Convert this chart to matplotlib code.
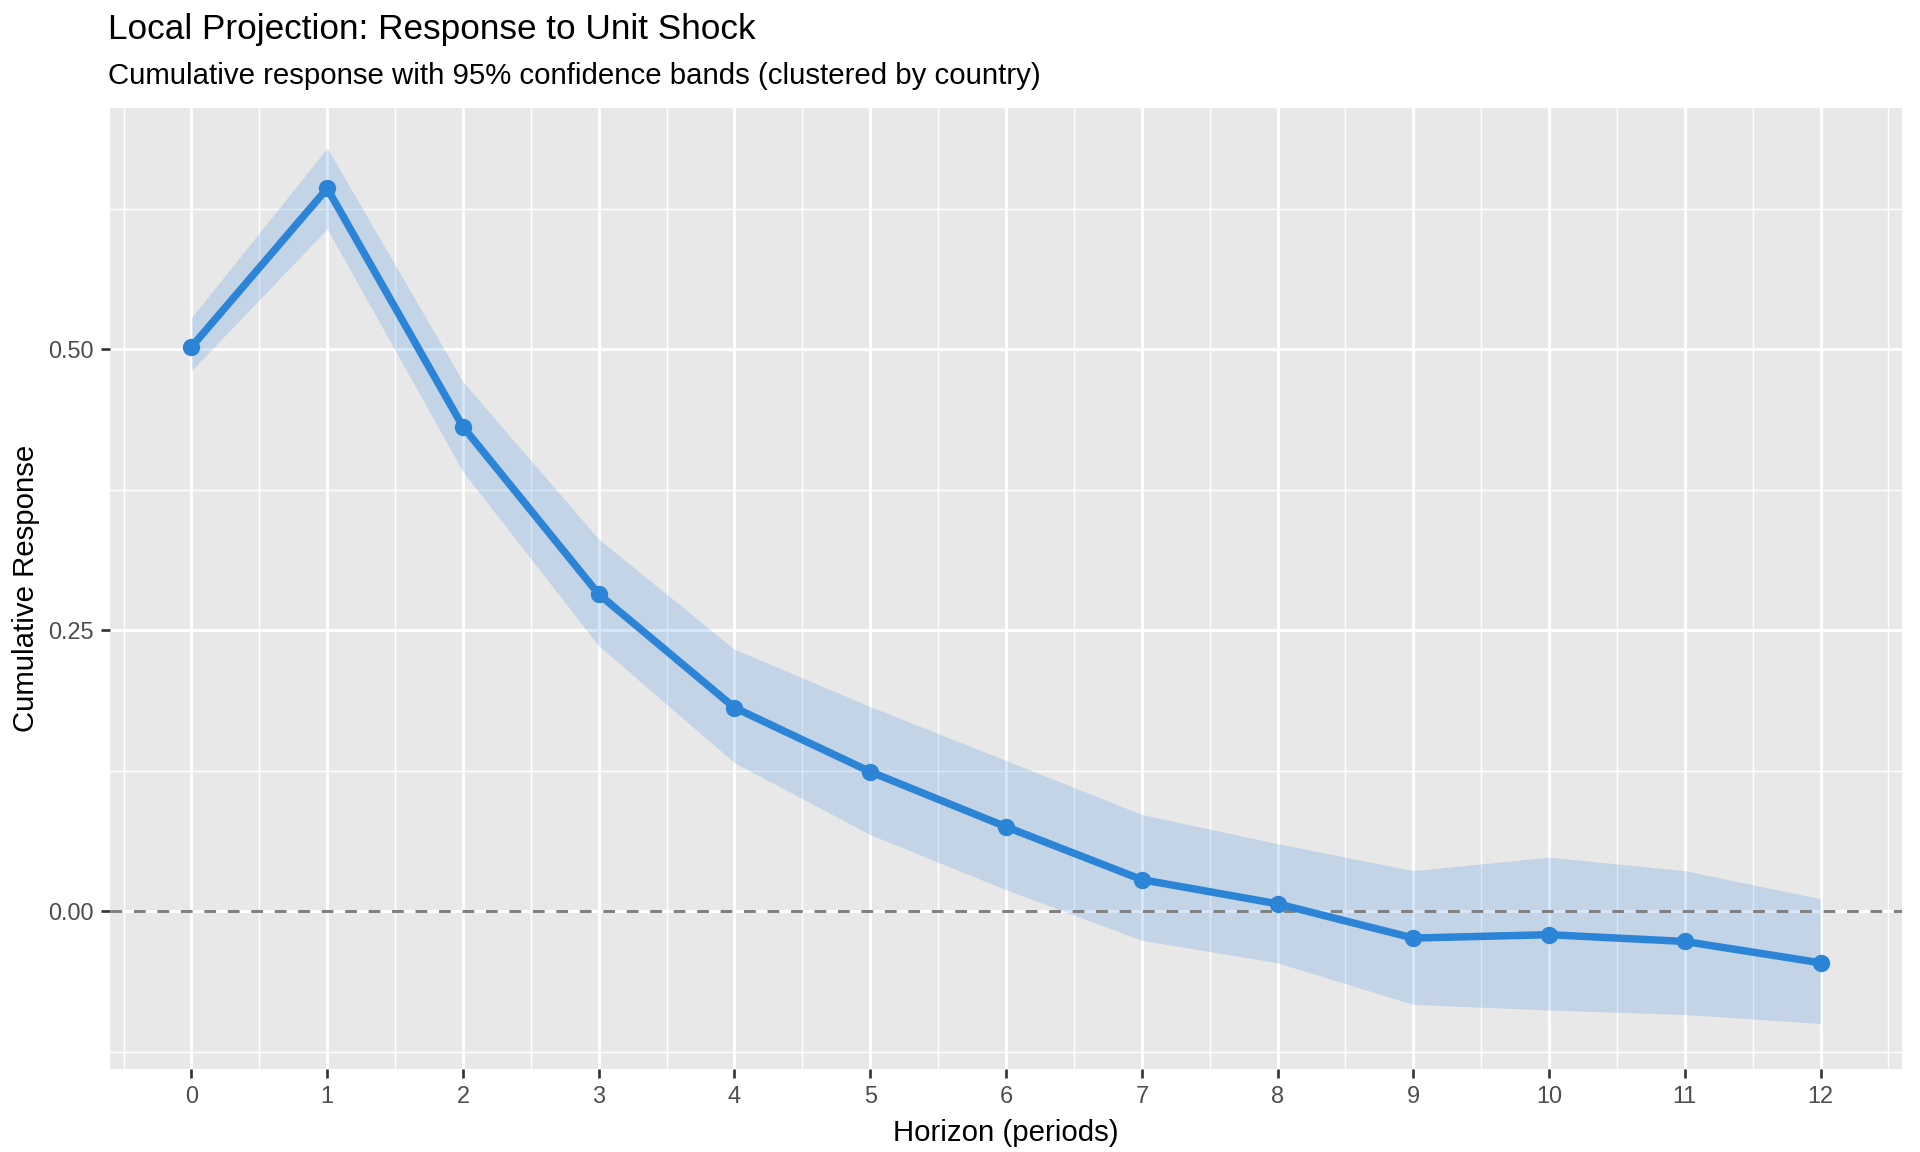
import matplotlib
matplotlib.use("Agg")
import matplotlib.pyplot as plt
import numpy as np

# local projection estimates
horizon = [0, 1, 2, 3, 4, 5, 6, 7, 8, 9, 10, 11, 12]
response = [0.502, 0.643, 0.431, 0.282, 0.181, 0.124, 0.075, 0.028, 0.0065, -0.024, -0.021, -0.027, -0.046]
upper = [0.528, 0.679, 0.471, 0.331, 0.233, 0.182, 0.134, 0.086, 0.060, 0.036, 0.048, 0.036, 0.011]
lower = [0.481, 0.607, 0.391, 0.236, 0.132, 0.068, 0.019, -0.026, -0.046, -0.083, -0.088, -0.092, -0.100]

y_ticks = [0.0, 0.25, 0.50]
y_tick_labels = ["0.00", "0.25", "0.50"]

LINE_COL = "#2B84D6"
PANEL_BG = "#E8E8E8"

plt.rcParams["font.family"] = ["Liberation Sans", "DejaVu Sans"]

fig = plt.figure(figsize=(10, 6), dpi=192)
ax = fig.add_axes([110 / 1920, 1 - 1069 / 1152, (1902 - 110) / 1920, (1069 - 108) / 1152])
ax.set_facecolor(PANEL_BG)
for s in ax.spines.values():
    s.set_visible(False)

# ggplot-like limits (a bit of expansion around the band)
ax.set_ylim(-0.1405, 0.7146)
ax.set_xlim(-0.6, 12.6)

ax.set_xticks(horizon)
ax.set_xticklabels([str(h) for h in horizon])
ax.set_yticks(y_ticks)
ax.set_yticklabels(y_tick_labels)
ax.set_xticks(np.arange(-0.5, 13, 1.0), minor=True)
ax.set_yticks([-0.125, 0.125, 0.375, 0.625], minor=True)

ax.grid(which="major", color="white", linewidth=1.1, zorder=0)
ax.grid(which="minor", color="white", linewidth=0.55, zorder=0)
ax.set_axisbelow(True)
ax.tick_params(which="major", length=3.5, width=1.0, color="#333333",
               labelsize=8.8, labelcolor="#4D4D4D", pad=2.5)
ax.tick_params(which="minor", length=0)

ax.fill_between(horizon, lower, upper, color="#2E86DE", alpha=0.2, linewidth=0, zorder=2)
ax.axhline(0, color="#7F7F7F", linestyle=(0, (4, 4)), linewidth=1.1, zorder=3)
ax.plot(horizon, response, color=LINE_COL, linewidth=2.8, zorder=4)
ax.plot(horizon, response, "o", color=LINE_COL, markersize=5.5, zorder=5)

ax.set_xlabel("Horizon (periods)", fontsize=11, labelpad=4)
ax.set_ylabel("Cumulative Response", fontsize=11, labelpad=3)

fig.text(108 / 1920, 1 - 39 / 1152, "Local Projection: Response to Unit Shock",
         fontsize=13.2, ha="left", va="baseline")
fig.text(108 / 1920, 1 - 84 / 1152,
         "Cumulative response with 95% confidence bands (clustered by country)",
         fontsize=11, ha="left", va="baseline")

fig.savefig("out.png", dpi=192, facecolor="white")
